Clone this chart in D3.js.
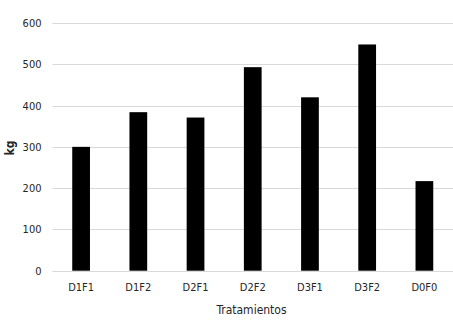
<!DOCTYPE html>
<html>
<head>
<meta charset="utf-8">
<script src="https://cdn.jsdelivr.net/npm/d3@7"></script>
<style>
  body { margin: 0; background: #fff; }
  text { font-family: "DejaVu Sans Condensed", "DejaVu Sans", sans-serif; }
</style>
</head>
<body>
<div id="chart"></div>
<script>
const categories = ['D1F1', 'D1F2', 'D2F1', 'D2F2', 'D3F1', 'D3F2', 'D0F0'];
const values = [300, 384, 371, 493, 420, 548, 217];
const yTicks = [0, 100, 200, 300, 400, 500, 600];

const width = 453;
const height = 327;
const margin = { top: 23, right: 0, bottom: 56.3, left: 52.5 };
const font = '"DejaVu Sans Condensed", "DejaVu Sans", sans-serif';

const svg = d3.select('#chart')
  .append('svg')
  .attr('width', width)
  .attr('height', height);

const x = d3.scaleBand()
  .domain(categories)
  .range([margin.left, width - margin.right])
  .paddingInner(0.69)
  .paddingOuter(0.345);

const y = d3.scaleLinear()
  .domain([0, 600])
  .range([height - margin.bottom, margin.top]);

// gridlines
svg.append('g')
  .selectAll('line')
  .data(yTicks)
  .join('line')
    .attr('x1', margin.left)
    .attr('x2', width - margin.right)
    .attr('y1', d => Math.round(y(d)) + 0.5)
    .attr('y2', d => Math.round(y(d)) + 0.5)
    .attr('stroke', '#d9d9d9')
    .attr('stroke-width', 1);

// bars
svg.append('g')
  .selectAll('rect')
  .data(values)
  .join('rect')
    .attr('x', (d, i) => x(categories[i]))
    .attr('y', d => y(d))
    .attr('width', x.bandwidth())
    .attr('height', d => y(0) - y(d))
    .attr('fill', '#000');

// y axis
const yAxis = svg.append('g')
  .attr('transform', `translate(${margin.left}, 0)`)
  .call(d3.axisLeft(y).tickValues(yTicks).tickSize(0).tickPadding(11));
yAxis.select('.domain').remove();
yAxis.selectAll('text')
  .attr('font-size', '11px')
  .attr('fill', '#262626')
  .style('font-family', font);

// x axis
const xAxis = svg.append('g')
  .attr('transform', `translate(0, ${height - margin.bottom})`)
  .call(d3.axisBottom(x).tickSize(0).tickPadding(13));
xAxis.select('.domain').remove();
xAxis.selectAll('text')
  .attr('font-size', '11px')
  .attr('fill', '#262626')
  .style('font-family', font);

svg.append('text')
  .attr('x', 251.5)
  .attr('y', 313.5)
  .attr('text-anchor', 'middle')
  .attr('font-size', '12px')
  .attr('fill', '#262626')
  .text('Tratamientos');

svg.append('text')
  .attr('transform', 'translate(14, 148) rotate(-90)')
  .attr('text-anchor', 'middle')
  .attr('font-size', '12px')
  .attr('font-weight', 'bold')
  .attr('fill', '#262626')
  .text('kg');
</script>
</body>
</html>
